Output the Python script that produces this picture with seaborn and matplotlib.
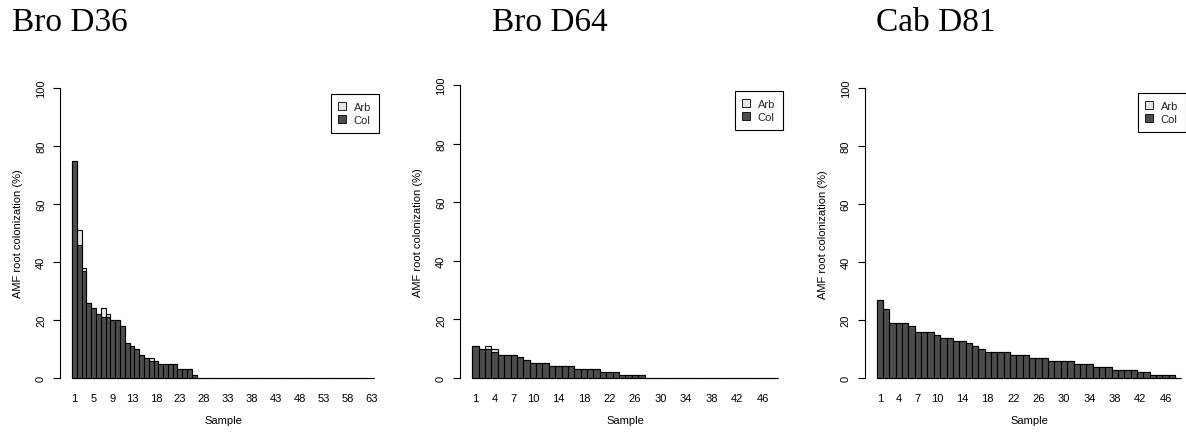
import pandas as pd
import matplotlib.pyplot as plt
import seaborn as sns
from matplotlib.patches import Patch

# --- data ---
titles = ["Bro D36", "Bro D64", "Cab D81"]

bro36_col = [75, 46, 37, 26, 24, 22, 21, 21, 20, 20, 18, 12, 11, 10, 8, 7, 6, 6, 5, 5, 5, 5, 3, 3, 3, 1] + [0] * 37
bro36_arb = [75, 51, 38, 26, 24, 22, 24, 22, 20, 20, 18, 12, 11, 10, 8, 7, 7, 6, 5, 5, 5, 5, 3, 3, 3, 1] + [0] * 37
bro36_ticks = [1, 5, 9, 13, 18, 23, 28, 33, 38, 43, 48, 53, 58, 63]

bro64_col = [11, 10, 10, 9, 8, 8, 8, 7, 6, 5, 5, 5, 4, 4, 4, 4, 3, 3, 3, 3, 2, 2, 2, 1, 1, 1, 1] + [0] * 21
bro64_arb = [11, 10, 11, 10, 8, 8, 8, 7, 6, 5, 5, 5, 4, 4, 4, 4, 3, 3, 3, 3, 2, 2, 2, 1, 1, 1, 1] + [0] * 21
bro64_ticks = [1, 4, 7, 10, 14, 18, 22, 26, 30, 34, 38, 42, 46]

cab81_col = [27, 24, 19, 19, 19, 18, 16, 16, 16, 15, 14, 14, 13, 13, 12, 11, 10, 9, 9, 9, 9, 8, 8, 8,
             7, 7, 7, 6, 6, 6, 6, 5, 5, 5, 4, 4, 4, 3, 3, 3, 3, 2, 2, 1, 1, 1, 1, 0]
cab81_arb = list(cab81_col)
cab81_ticks = [1, 4, 7, 10, 14, 18, 22, 26, 30, 34, 38, 42, 46]

ARB_COLOR = "#e5e5e5"
COL_COLOR = "#4d4d4d"

W, H = 1186, 435
sns.set_theme(style="white")
plt.rcParams["font.family"] = ["Liberation Sans", "DejaVu Sans"]

fig = plt.figure(figsize=(W / 100, H / 100), dpi=100)

# pixel layout per panel: y-axis x, bar slot width, y0 px, y100 px, legend top-right px, title left px
layout = [
    dict(left=60, slot=4.79, y0=379, y100=89, leg=(379, 95), tx=12.5),
    dict(left=460, slot=6.38, y0=379, y100=86, leg=(783, 92), tx=492.5),
    dict(left=864.5, slot=6.35, y0=379.3, y100=89, leg=(1186, 94), tx=876),
]
panels = [
    (bro36_arb, bro36_col, bro36_ticks),
    (bro64_arb, bro64_col, bro64_ticks),
    (cab81_arb, cab81_col, cab81_ticks),
]

FS = 8

for title, (arb, col, ticks), L in zip(titles, panels, layout):
    n = len(col)
    ppu = (L["y0"] - L["y100"]) / 100.0
    top_px = L["y100"] - 4 * ppu
    bot_px = L["y0"] + 4 * ppu
    width_px = 1.08 * n * L["slot"]
    ax = fig.add_axes([L["left"] / W, 1 - bot_px / H, width_px / W, (bot_px - top_px) / H])

    df = pd.DataFrame({
        "sample": [str(i + 1) for i in range(n)],
        "Arb": arb,
        "Col": col,
    })
    order = list(df["sample"])
    sns.barplot(data=df, x="sample", y="Arb", order=order, color=ARB_COLOR, saturation=1,
                width=1.0, edgecolor="black", linewidth=0.8, ax=ax)
    sns.barplot(data=df, x="sample", y="Col", order=order, color=COL_COLOR, saturation=1,
                width=1.0, edgecolor="black", linewidth=0.8, ax=ax)

    ax.set_xlim(-0.5 - 0.04 * n, n - 0.5 + 0.04 * n)
    ax.set_ylim(-4, 104)
    for s in ["top", "right", "bottom"]:
        ax.spines[s].set_visible(False)
    ax.spines["left"].set_bounds(0, 100)
    ax.spines["left"].set_color("black")
    ax.spines["left"].set_linewidth(0.8)

    ax.set_yticks([0, 20, 40, 60, 80, 100])
    ax.set_yticklabels(["0", "20", "40", "60", "80", "100"], rotation=90, va="center")
    ax.tick_params(axis="y", left=True, length=5, width=0.8, pad=5, labelsize=FS, colors="black")
    ax.set_xticks([t - 1 for t in ticks])
    ax.set_xticklabels([str(t) for t in ticks])
    ax.tick_params(axis="x", bottom=False, length=0, pad=2.5, labelsize=FS, labelcolor="black")

    ax.set_xlabel("Sample", fontsize=FS, color="black")
    ax.set_ylabel("AMF root colonization (%)", fontsize=FS, color="black")
    ax.xaxis.label.set_va("center")
    ax.yaxis.label.set_va("center")
    ax.xaxis.set_label_coords(0.5, -(421.5 - bot_px) / (bot_px - top_px))
    ax.yaxis.set_label_coords(-42 / width_px, 0.5)

    handles = [Patch(facecolor=ARB_COLOR, edgecolor="black", linewidth=0.6, label="Arb"),
               Patch(facecolor=COL_COLOR, edgecolor="black", linewidth=0.6, label="Col")]
    leg = ax.legend(handles=handles, loc="upper right",
                    bbox_to_anchor=(L["leg"][0] / W, 1 - L["leg"][1] / H),
                    bbox_transform=fig.transFigure, borderaxespad=0,
                    fontsize=FS, handlelength=0.7, handleheight=0.7, handletextpad=0.7,
                    labelspacing=0.3, borderpad=0.7, frameon=True, fancybox=False,
                    framealpha=1, edgecolor="black")
    leg.get_frame().set_linewidth(0.8)

    fig.text(L["tx"] / W, 1 - 30.7 / H, title, fontsize=24,
             family=["Liberation Serif", "DejaVu Serif"], ha="left", va="baseline", color="black")

fig.savefig("out.png", dpi=100)
